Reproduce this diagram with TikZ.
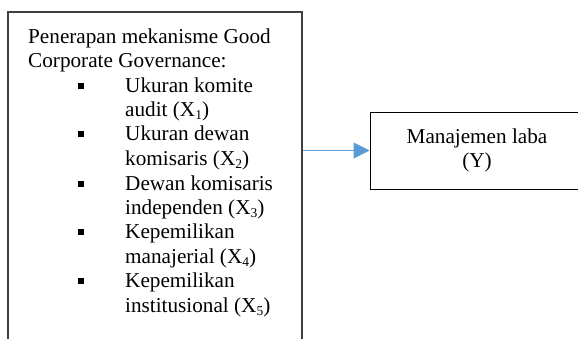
\documentclass[tikz,border=0pt]{standalone}
\usepackage{fontspec}
\setmainfont{Liberation Serif}
\usetikzlibrary{arrows.meta}
\definecolor{arrowblue}{HTML}{5B9BD5}
\newcommand{\mysub}[1]{\raisebox{-3pt}{\fontsize{13.5}{13.5}\selectfont #1}}
\tikzset{
  txt/.style={anchor=base west, inner sep=0pt, font=\fontsize{21.2}{24.5}\selectfont},
  ctxt/.style={anchor=base, inner sep=0pt, font=\fontsize{21.2}{24.5}\selectfont},
  bul/.style={fill=black, draw=none, minimum size=6pt, inner sep=0pt},
  lbox/.style={draw=black!75, line width=1.3pt, rectangle, inner sep=0pt},
  rbox/.style={draw=black, line width=1pt, rectangle, inner sep=0pt},
  link/.style={draw=arrowblue, line width=1pt, -{Triangle[length=16pt,width=16pt]}}
}
\begin{document}
\begin{tikzpicture}[x=1pt,y=-1pt]
\useasboundingbox (0,0) rectangle (578,338);
\clip (0,0) rectangle (578,338);
\node[lbox, minimum width=294pt, minimum height=368pt] (left) at (155,196) {};
\node[rbox, minimum width=250pt, minimum height=77pt] (right) at (495,150.5) {};
\node[txt] (l1) at (28,43) {Penerapan mekanisme Good};
\node[txt] (l2) at (28,67) {Corporate Governance:};
\node[bul] (b1) at (81,86) {};
\node[txt] (l3) at (125,92) {Ukuran komite};
\node[txt] (l4) at (125,116) {audit (X\mysub{1})};
\node[bul] (b2) at (81,134) {};
\node[txt] (l5) at (125,140) {Ukuran dewan};
\node[txt] (l6) at (125,165) {komisaris (X\mysub{2})};
\node[bul] (b3) at (81,184) {};
\node[txt] (l7) at (125,190) {Dewan komisaris};
\node[txt] (l8) at (125,214) {independen (X\mysub{3})};
\node[bul] (b4) at (81,232) {};
\node[txt] (l9) at (125,238) {Kepemilikan};
\node[txt] (l10) at (125,263) {manajerial (X\mysub{4})};
\node[bul] (b5) at (81,281) {};
\node[txt] (l11) at (125,287) {Kepemilikan};
\node[txt] (l12) at (125,312) {institusional (X\mysub{5})};
\node[ctxt] (r1) at (477,143) {Manajemen laba};
\node[ctxt] (r2) at (477,167.5) {(Y)};
\coordinate (start) at (right.west -| left.east);
\draw[link] (start) -- (right.west);
\end{tikzpicture}
\end{document}
